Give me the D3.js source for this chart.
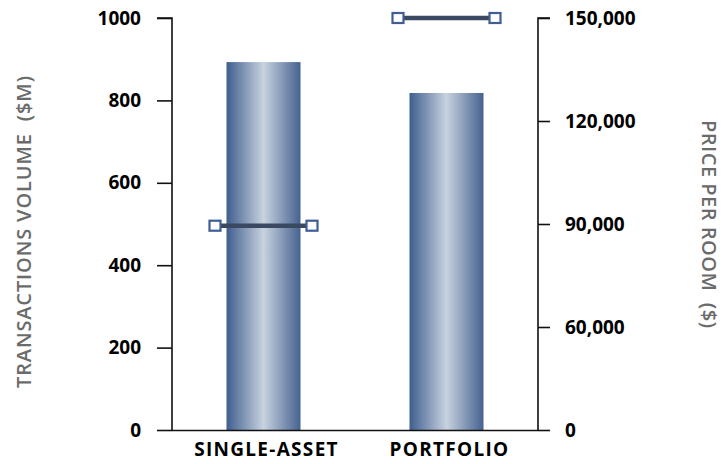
<!DOCTYPE html>
<html><head><meta charset="utf-8">
<script src="https://cdn.jsdelivr.net/npm/d3@7/dist/d3.min.js"></script>
<style>body{margin:0;background:#fff}svg{display:block}</style>
</head><body>
<svg id="c" width="727" height="464"></svg>
<script>
const categories = ["SINGLE-ASSET", "PORTFOLIO"];
const volume = [893, 818];            // $M, bars (left axis)
const pricePerRoom = [89500, 150000]; // $, lines (right axis)
const leftTicks = [0, 200, 400, 600, 800, 1000];
const rightTicks = [0, 60000, 90000, 120000, 150000];

const svg = d3.select("#c");
const L = 172, R = 538, T = 18, B = 430;
const font = "'Open Sans', sans-serif";

const x = d3.scaleBand().domain(categories).range([L, R]).padding(0);
const yL = d3.scaleLinear().domain([0, 1000]).range([B, T]);
// right axis is broken: 0 to 60,000 occupies one interval, as drawn
const yR = d3.scaleLinear().domain([0, 60000, 150000]).range([B, yL(250), T]);

const defs = svg.append("defs");
const g = defs.append("linearGradient").attr("id", "barGrad").attr("x1", "0%").attr("x2", "100%").attr("y1", "0%").attr("y2", "0%");
g.append("stop").attr("offset", "0%").attr("stop-color", "#3f5e8e");
g.append("stop").attr("offset", "50%").attr("stop-color", "#c8d2df");
g.append("stop").attr("offset", "100%").attr("stop-color", "#45628f");

const bw = 74;
svg.selectAll("rect.bar").data(categories).join("rect")
  .attr("class", "bar")
  .attr("x", d => x(d) + x.bandwidth() / 2 - bw / 2)
  .attr("width", bw)
  .attr("y", (d, i) => yL(volume[i]))
  .attr("height", (d, i) => B - yL(volume[i]))
  .attr("fill", "url(#barGrad)");

// axes
const axL = svg.append("g").attr("transform", `translate(${L},0)`)
  .call(d3.axisLeft(yL).tickValues(leftTicks).tickSize(15).tickPadding(16).tickFormat(d3.format("d")));
const axR = svg.append("g").attr("transform", `translate(${R},0)`)
  .call(d3.axisRight(yR).tickValues(rightTicks).tickSize(12).tickPadding(15).tickFormat(d => d === 0 ? "0" : d3.format(",")(d)));
const axB = svg.append("g").attr("transform", `translate(0,${B})`)
  .call(d3.axisBottom(x).tickSize(0).tickPadding(12));

[axL, axR, axB].forEach(a => {
  a.select(".domain").attr("stroke", "#111").attr("stroke-width", 1.6);
  a.selectAll(".tick line").attr("stroke", "#111").attr("stroke-width", 1.6);
  a.selectAll(".tick text").attr("fill", "#000").style("font-family", font).style("font-weight", "700").style("font-size", "19px");
});
axB.select(".domain").attr("d", `M${L},0.5H${R}`);
axL.select(".domain").attr("d", `M-15,${T}H0V${B}`);
axR.select(".domain").attr("d", `M12,${T}H0V${B}`);
axB.selectAll(".tick text").attr("dy", "0.75em").attr("x", 3).style("letter-spacing", "1.3px");

// price lines with square end markers
const half = 48.5;
const lines = svg.append("g");
categories.forEach((c, i) => {
  const cx = x(c) + x.bandwidth() / 2;
  const yy = yR(pricePerRoom[i]);
  lines.append("line").attr("x1", cx - half).attr("x2", cx + half).attr("y1", yy).attr("y2", yy)
    .attr("stroke", "#3b4862").attr("stroke-width", 4.5);
  [cx - half, cx + half].forEach(px => {
    lines.append("rect").attr("x", px - 5.5).attr("y", yy - 5).attr("width", 11).attr("height", 10)
      .attr("fill", "#fff").attr("stroke", "#3f5e95").attr("stroke-width", 2.2);
  });
});

// axis titles
svg.append("text").attr("transform", `translate(31,232) rotate(-90)`)
  .attr("text-anchor", "middle").attr("fill", "#6b6b6b")
  .attr("textLength", 312).attr("lengthAdjust", "spacing")
  .style("font-family", font).style("font-size", "20px").style("font-weight", "600")
  .text("TRANSACTIONS VOLUME\u00a0\u00a0($M)");
svg.append("text").attr("transform", `translate(702,224) rotate(90)`)
  .attr("text-anchor", "middle").attr("fill", "#6b6b6b")
  .attr("textLength", 208).attr("lengthAdjust", "spacing")
  .style("font-family", font).style("font-size", "20px").style("font-weight", "600")
  .text("PRICE PER ROOM\u00a0\u00a0($)");
</script>
</body></html>
